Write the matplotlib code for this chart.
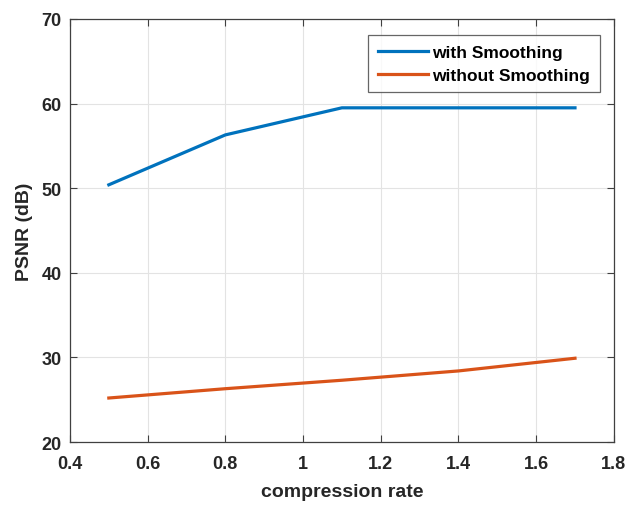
import matplotlib

matplotlib.use('Agg')
import matplotlib.pyplot as plt

plt.rcParams['font.family'] = ['Liberation Sans', 'DejaVu Sans']
plt.rcParams['font.weight'] = 'bold'

compression_rate = [0.5, 0.8, 1.1, 1.4, 1.7]
psnr_smooth = [50.4, 56.3, 59.5, 59.5, 59.5]
psnr_no_smooth = [25.2, 26.3, 27.3, 28.4, 29.9]
x_ticks = [0.4, 0.6, 0.8, 1.0, 1.2, 1.4, 1.6, 1.8]
x_labels = ['0.4', '0.6', '0.8', '1', '1.2', '1.4', '1.6', '1.8']
y_ticks = [20, 30, 40, 50, 60, 70]

fig = plt.figure(figsize=(6.27, 5.06), dpi=100)
ax = fig.add_axes((0.1116, 0.1245, 0.8674, 0.836))

ax.plot(compression_rate, psnr_smooth, color='#0072BD', linewidth=2.3, label='with Smoothing')
ax.plot(compression_rate, psnr_no_smooth, color='#D95319', linewidth=2.3, label='without Smoothing')

ax.set_xlim(0.4, 1.8)
ax.set_ylim(20, 70)
ax.set_xticks(x_ticks)
ax.set_xticklabels(x_labels)
ax.set_yticks(y_ticks)
ax.grid(True, color='#e3e3e3', linewidth=0.8)
ax.set_axisbelow(True)
ax.tick_params(direction='in', top=True, right=True, length=5, width=0.8,
               colors='#404040', labelsize=13, labelcolor='#262626')
ax.tick_params(axis='x', pad=9)
ax.tick_params(axis='y', pad=6)
for s in ax.spines.values():
    s.set_color('#404040')
    s.set_linewidth(0.9)

ax.set_xlabel('compression rate', fontsize=14, fontweight='bold', color='#262626', labelpad=8)
ax.set_ylabel('PSNR (dB)', fontsize=14, fontweight='bold', color='#262626', labelpad=6)

leg = ax.legend(loc='upper right', bbox_to_anchor=(0.974, 0.962), fontsize=12.5, frameon=True,
                fancybox=False, edgecolor='#404040', handlelength=2.9, handletextpad=0.25,
                borderpad=0.55, labelspacing=0.45, borderaxespad=0)
leg.get_frame().set_linewidth(0.9)
for t in leg.get_texts():
    t.set_color('black')

fig.savefig('out.png', dpi=100)
